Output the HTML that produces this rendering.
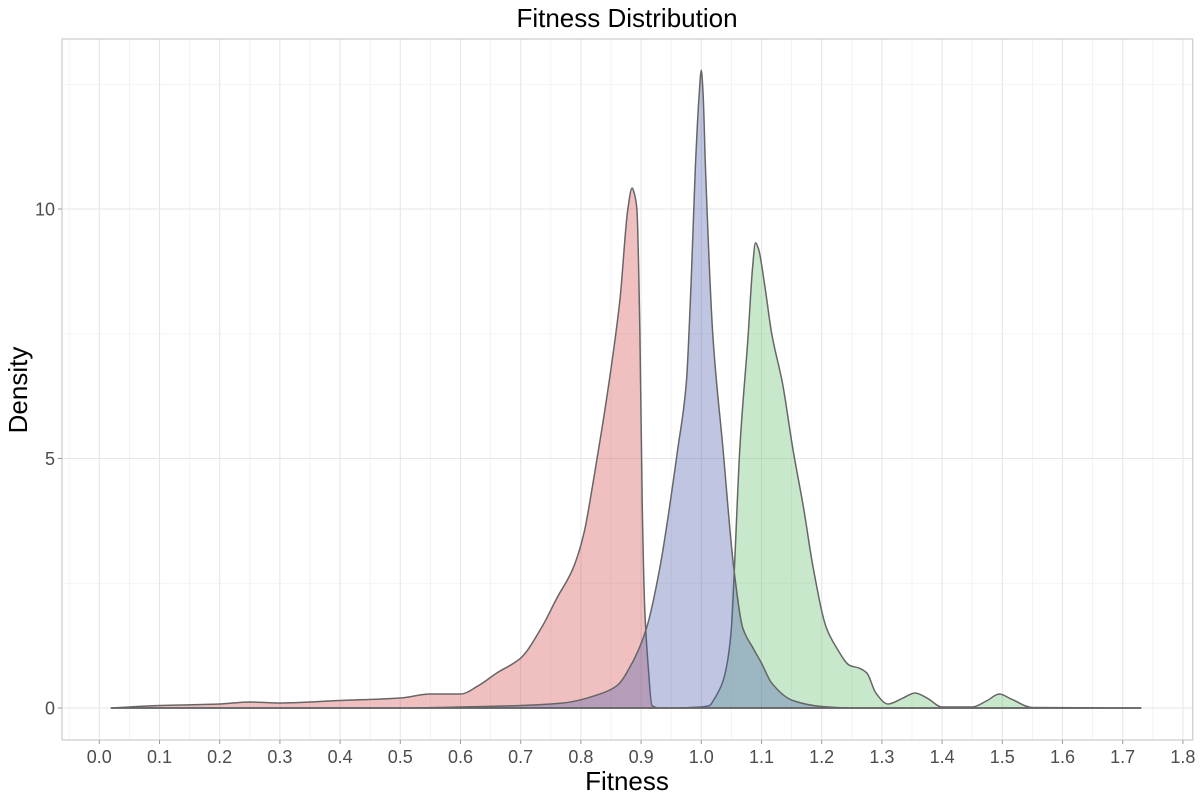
<!DOCTYPE html>
<html><head><meta charset="utf-8"><style>
body{margin:0;background:#fff;}
svg text{font-family:"Liberation Sans",sans-serif;}
</style></head><body>
<svg id="chart" width="1200" height="800" xmlns="http://www.w3.org/2000/svg">
<text x="627" y="27" font-size="26" text-anchor="middle" fill="#000">Fitness Distribution</text>
<text x="627" y="790" font-size="26" text-anchor="middle" fill="#000">Fitness</text>
<text transform="translate(27,390) rotate(-90)" font-size="26" text-anchor="middle" fill="#000">Density</text>
<g id="grid"></g>
<g id="series"></g>
<rect x="62" y="39" width="1130.7" height="701" fill="none" stroke="#d0d0d0" stroke-width="1.3"/>
<g id="axes"></g>
</svg>
<script>
const xTicks = [0,0.1,0.2,0.3,0.4,0.5,0.6,0.7,0.8,0.9,1.0,1.1,1.2,1.3,1.4,1.5,1.6,1.7,1.8];
const yTicks = [0,5,10];
const redX = [0.02,0.1,0.2,0.25,0.3,0.4,0.5,0.55,0.6,0.63,0.66,0.7,0.735,0.76,0.787,0.805,0.82,0.835,0.85,0.865,0.878,0.885,0.889,0.893,0.898,0.902,0.906,0.912,0.918,0.93,1.73];
const redY = [0,0.05,0.08,0.12,0.1,0.15,0.2,0.28,0.28,0.45,0.7,1.0,1.62,2.2,2.8,3.5,4.5,5.6,6.8,8.2,10.0,10.42,10.3,10.0,7.5,4.0,2.0,0.8,0.05,0,0];
const blueX = [0.02,0.5,0.6,0.7,0.77,0.836,0.86,0.885,0.909,0.931,0.961,0.975,0.983,0.99,0.996,1.0,1.003,1.007,1.019,1.036,1.054,1.069,1.086,1.1,1.117,1.152,1.2,1.25,1.73];
const blueY = [0,0,0.02,0.05,0.1,0.3,0.45,0.9,1.6,2.8,5.2,6.5,8.5,10.8,12.2,12.78,12.3,10.8,7.5,5.2,2.8,1.6,1.2,0.9,0.5,0.15,0.03,0,0];
const greenX = [0.02,0.95,1.0,1.014,1.02,1.035,1.043,1.05,1.055,1.064,1.078,1.085,1.09,1.095,1.105,1.117,1.135,1.152,1.17,1.186,1.208,1.225,1.247,1.262,1.275,1.29,1.31,1.335,1.355,1.375,1.4,1.45,1.475,1.495,1.515,1.55,1.73];
const greenY = [0,0,0.02,0.05,0.15,0.5,0.9,1.6,2.8,5.2,7.5,8.8,9.32,9.2,8.5,7.5,6.5,5.2,4.0,2.8,1.6,1.2,0.85,0.8,0.7,0.3,0.08,0.2,0.3,0.2,0.02,0.02,0.15,0.28,0.18,0.01,0];
const NS = "http://www.w3.org/2000/svg";
function X(v){return 99.3+v*602;}
function Y(v){return 708-49.9*v;}
const grid=document.getElementById('grid'), axes=document.getElementById('axes'), series=document.getElementById('series');
function mk(tag,attrs,parent){const e=document.createElementNS(NS,tag);for(const k in attrs)e.setAttribute(k,attrs[k]);parent.appendChild(e);return e;}
for(let i=-1;i<=36;i+=2){const v=i*0.05;const x=X(v);if(x<62||x>1192)continue;
 const l=mk('line',{x1:x,x2:x,y1:39,y2:740,stroke:'#f0f0f0','stroke-width':0.8},grid);
 
 }
[-2.5,2.5,7.5,12.5].forEach(v=>{const y=Y(v);if(y>740)return;
 const l=mk('line',{x1:62,x2:1192,y1:y,y2:y,stroke:'#f0f0f0','stroke-width':0.8},grid);
 
 });
xTicks.forEach(v=>{const x=X(v);
 const l=mk('line',{x1:x,x2:x,y1:39,y2:740,stroke:'#e6e6e6','stroke-width':1.1},grid);
 
 
 const t=mk('line',{x1:x,x2:x,y1:740,y2:744,stroke:'#999','stroke-width':1},axes);
 
 
 const tx=mk('text',{x:x,y:763,'font-size':18,'text-anchor':'middle',fill:'#4d4d4d'},axes);
 tx.textContent=v.toFixed(1);
 
 });
yTicks.forEach(v=>{const y=Y(v);
 const l=mk('line',{x1:62,x2:1192,y1:y,y2:y,stroke:'#e6e6e6','stroke-width':1.1},grid);
 
 
 const t=mk('line',{x1:58,x2:62,y1:y,y2:y,stroke:'#999','stroke-width':1},axes);
 
 
 const tx=mk('text',{x:55,y:y+6.5,'font-size':18,'text-anchor':'end',fill:'#4d4d4d'},axes);
 tx.textContent=String(v);
 
 });
function monoPath(px,py){
 const n=px.length,dx=[],m=[],t=new Array(n);
 for(let i=0;i<n-1;i++){dx[i]=px[i+1]-px[i];m[i]=(py[i+1]-py[i])/dx[i];}
 t[0]=m[0];t[n-1]=m[n-2];
 for(let i=1;i<n-1;i++){if(m[i-1]*m[i]<=0)t[i]=0;else{const w1=2*dx[i]+dx[i-1],w2=dx[i]+2*dx[i-1];t[i]=(w1+w2)/(w1/m[i-1]+w2/m[i]);}}
 let d='';
 for(let i=0;i<n-1;i++){const h=dx[i]/3;
  d+=' C'+(px[i]+h).toFixed(2)+','+(py[i]+t[i]*h).toFixed(2)+' '+(px[i+1]-h).toFixed(2)+','+(py[i+1]-t[i+1]*h).toFixed(2)+' '+px[i+1].toFixed(2)+','+py[i+1].toFixed(2);}
 return d;}
function area(xs,ys,fill,name){
 const px=xs.map(X),py=ys.map(Y);
 let d='M'+px[0].toFixed(2)+','+py[0].toFixed(2)+monoPath(px,py);
 d+=' L'+px[px.length-1].toFixed(2)+','+Y(0)+' L'+px[0].toFixed(2)+','+Y(0)+' Z';
 const p=mk('path',{d:d,fill:fill,stroke:'#666','stroke-width':1.5,'stroke-linejoin':'round'},series);
 
 }
area(redX,redY,'rgba(212,75,75,0.35)','density-red');
area(greenX,greenY,'rgba(98,189,109,0.35)','density-green');
area(blueX,blueY,'rgba(75,92,172,0.35)','density-blue');
</script>
</body></html>
